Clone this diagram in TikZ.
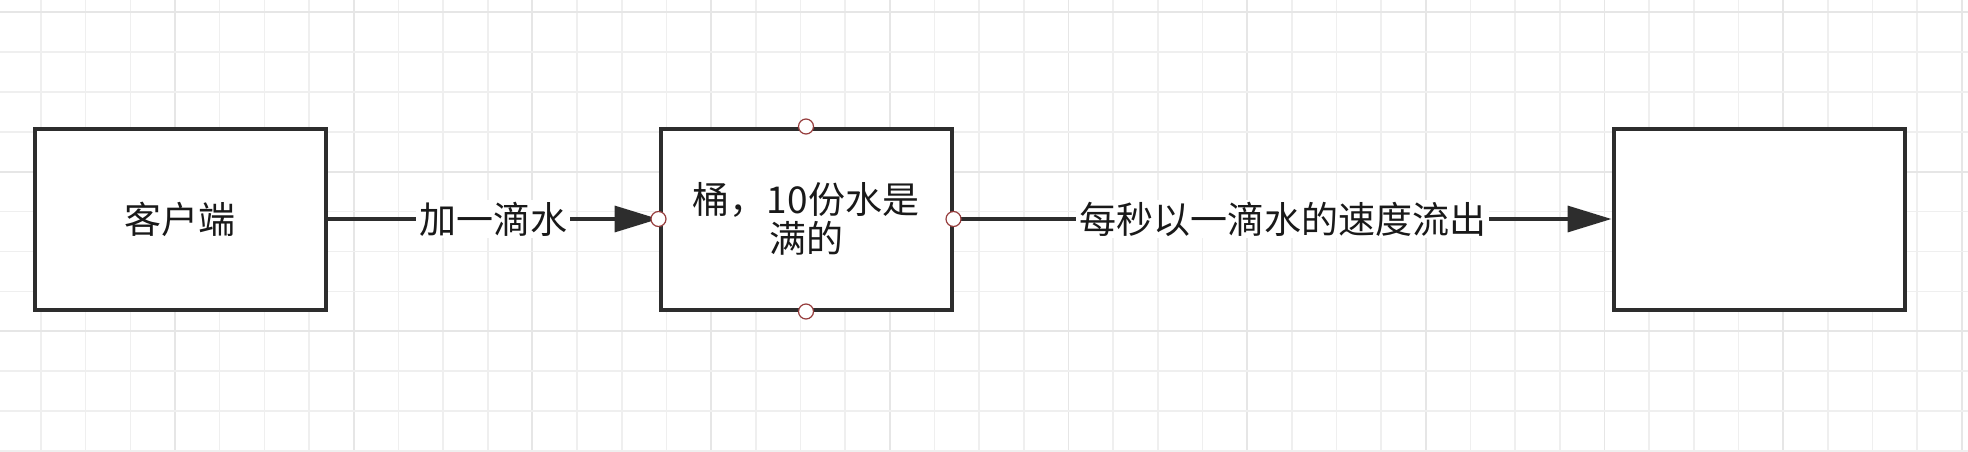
\documentclass[tikz,border=0pt]{standalone}
\usepackage{fontspec}
\setmainfont{Noto Sans CJK SC}
\usetikzlibrary{arrows.meta}
\definecolor{gridminor}{RGB}{239,239,239}
\definecolor{gridmajor}{RGB}{230,230,230}
\definecolor{boxline}{RGB}{45,45,45}
\definecolor{txt}{RGB}{25,25,25}
\definecolor{handle}{RGB}{150,60,60}
\tikzset{
  boxnode/.style={draw=boxline, line width=4pt, fill=white, minimum width=291pt, minimum height=181pt, inner sep=0pt, text=txt, font=\fontsize{37}{39}\selectfont, align=center},
  flow/.style={draw=boxline, line width=3.5pt, -{Triangle[length=44pt,width=26pt]}},
  flowlabel/.style={fill=white, text=txt, inner xsep=3pt, inner ysep=2pt, font=\fontsize{37}{40}\selectfont},
  handlept/.style={circle, draw=handle, line width=1.2pt, fill=white, minimum size=15pt, inner sep=0pt},
  minorline/.style={draw=gridminor, line width=1.6pt},
  majorline/.style={draw=gridmajor, line width=1.8pt}
}
\begin{document}
\begin{tikzpicture}[x=1pt,y=-1pt]
\useasboundingbox (0,0) rectangle (1968,452);
\fill[white] (0,0) rectangle (1968,452);
% grid
\foreach \k in {0,...,43}{
  \pgfmathtruncatemacro{\m}{mod(\k,4)}
  \ifnum\m=3
    \draw[majorline] ({41+44.67*\k},0) -- ({41+44.67*\k},452);
  \else
    \draw[minorline] ({41+44.67*\k},0) -- ({41+44.67*\k},452);
  \fi
}
\foreach \k in {0,...,11}{
  \pgfmathtruncatemacro{\m}{mod(\k,4)}
  \ifnum\m=0
    \draw[majorline] (0,{12+39.9*\k}) -- (1968,{12+39.9*\k});
  \else
    \draw[minorline] (0,{12+39.9*\k}) -- (1968,{12+39.9*\k});
  \fi
}
% boxes
\node[boxnode] (client) at (180,219) {客户端};
\node[boxnode] (bucket) at (806,219) {桶，10份水是\\满的};
\node[boxnode] (out) at (1759,219) {};
% connectors
\draw[flow] (client.east) -- node[flowlabel] (l1) {加一滴水} (bucket.west);
\draw[flow] (bucket.east) -- node[flowlabel] (l2) {每秒以一滴水的速度流出} (out.west);
% connection handles
\node[handlept] (h1) at (bucket.west) {};
\node[handlept] (h2) at (bucket.east) {};
\node[handlept] (h3) at (bucket.north) {};
\node[handlept] (h4) at (bucket.south) {};
\end{tikzpicture}
\end{document}
